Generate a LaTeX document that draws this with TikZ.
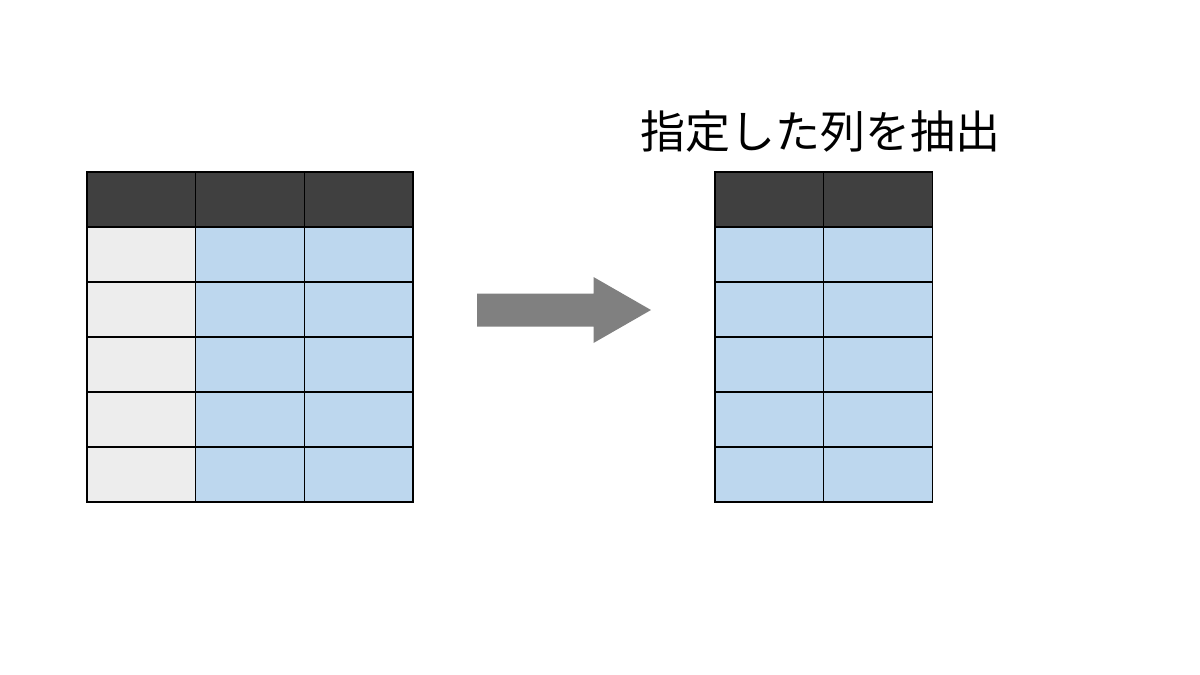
\documentclass[tikz,border=0pt]{standalone}
\usepackage{fontspec}
\newfontfamily\jpfont{Noto Sans CJK JP}
\usepackage{tikz}
\usetikzlibrary{positioning}
\definecolor{hdgrey}{HTML}{404040}
\definecolor{cellgrey}{HTML}{EDEDED}
\definecolor{cellblue}{HTML}{BDD7EE}
\definecolor{arrgrey}{HTML}{808080}
\tikzset{
  cell/.style  = {rectangle, draw=black, line width=1.4pt, inner sep=0pt,
                  minimum width=108.7pt, minimum height=55pt},
  hd/.style    = {cell, fill=hdgrey},
  idx/.style   = {cell, fill=cellgrey},
  val/.style   = {cell, fill=cellblue},
  ttl/.style   = {font=\jpfont\fontsize{45}{52}\selectfont, inner sep=0pt},
}

\begin{document}
\begin{tikzpicture}[x=1pt,y=-1pt]
  \useasboundingbox (0,0) rectangle (1200,675);
  % source table
  \foreach \c in {0,1,2}{
    \node[hd] (L-\c-0) at ({141.4+108.7*\c},199.5) {};
    \foreach \r in {1,...,5}{
      \ifnum\c=0
        \node[idx] (L-\c-\r) at ({141.4+108.7*\c},{199.5+55*\r}) {};
      \else
        \node[val] (L-\c-\r) at ({141.4+108.7*\c},{199.5+55*\r}) {};
      \fi
    }
  }
  % extracted columns
  \foreach \c in {0,1}{
    \node[hd] (R-\c-0) at ({769.4+108.7*\c},199.5) {};
    \foreach \r in {1,...,5}
      \node[val] (R-\c-\r) at ({769.4+108.7*\c},{199.5+55*\r}) {};
  }
  \node[ttl] (title) at (820.5,132) {指定した列を抽出};
  % arrow
  \fill[arrgrey] (477,293.5) -- (593.5,293.5) -- (593.5,277) -- (651,310)
    -- (593.5,343) -- (593.5,326.5) -- (477,326.5) -- cycle;
\end{tikzpicture}
\end{document}
